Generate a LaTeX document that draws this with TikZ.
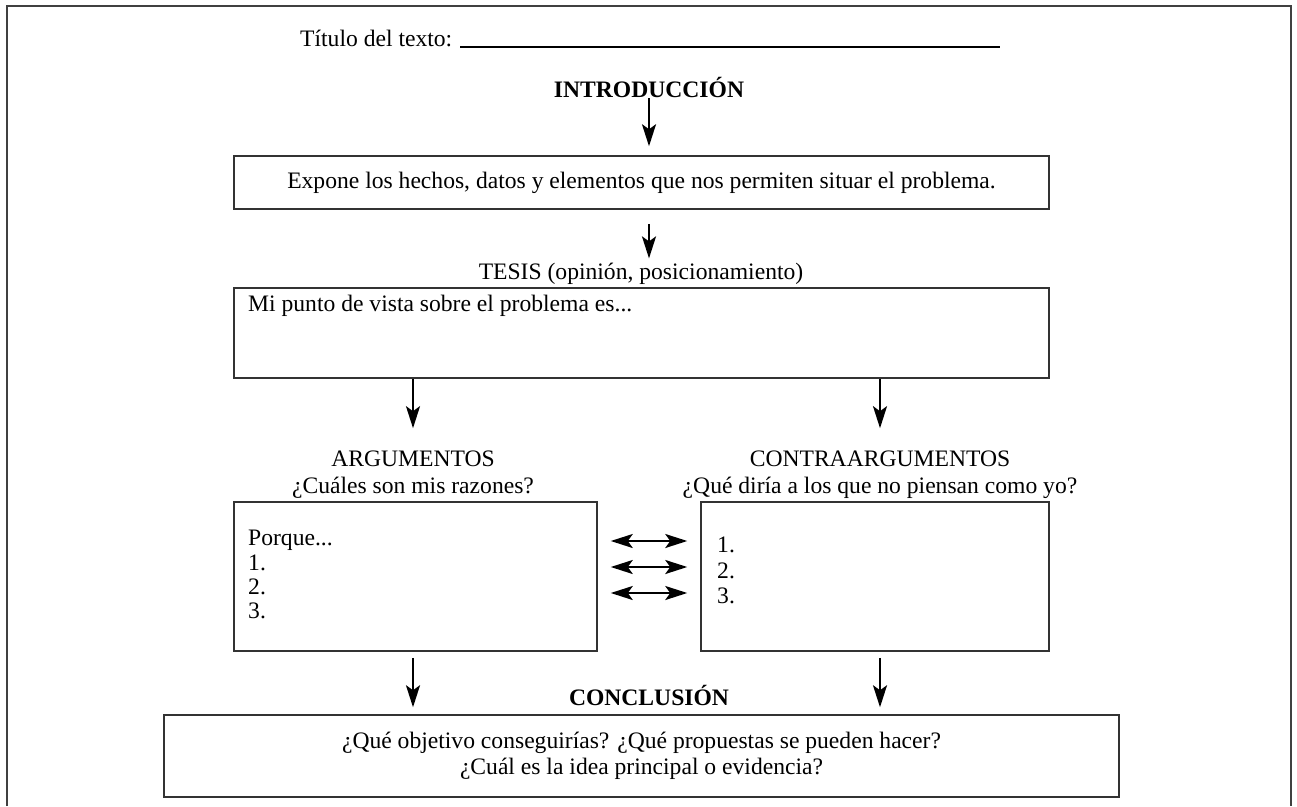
\documentclass[tikz,border=0pt]{standalone}
\usepackage{fontspec}
\setmainfont{Liberation Serif}
\usetikzlibrary{arrows.meta}

\tikzset{
  caja/.style={draw=black!80, line width=1.5pt, inner sep=0pt},
  rotulo/.style={inner sep=0pt, font=\fontsize{23.6}{26}\selectfont},
  negrita/.style={rotulo, font=\fontsize{23.6}{26}\selectfont\bfseries},
  punta/.tip={Stealth[length=22pt,width=14pt,inset=5pt]},
  flecha/.style={line width=2.2pt, -punta},
  doble/.style={line width=2.2pt, punta-punta},
}

\begin{document}
\begin{tikzpicture}[x=1pt,y=-1pt]
				\useasboundingbox (0,0) rectangle (1297,806);
				\draw[line width=1.5pt, black!75] (7,806) -- (7,6) -- (1291,6) -- (1291,806);
				
				\node[rotulo, anchor=base west] (titulo) at (300,46) {Título del texto:};
				\coordinate (raya) at (1000,47);
				\draw[line width=1.4pt, shorten <=8pt] (titulo.base east |- raya) -- (raya);
				
				\node[negrita, anchor=base] (intro) at (649,97) {INTRODUCCIÓN};
				\node[caja, rotulo, draw=black!80, minimum width=815, minimum height=53] (expone) at (641.5,182.5) {Expone los hechos, datos y elementos que nos permiten situar el problema.};
				\draw[flecha, shorten <=1pt, shorten >=9pt] (intro) -- (intro |- expone.north);
				
				\node[rotulo, anchor=base] (tesis) at (641,279) {TESIS (opinión, posicionamiento)};
				\draw[flecha, shorten <=14pt, shorten >=4pt] (intro |- expone.south) -- (intro |- tesis.north);
				\node[caja, minimum width=815, minimum height=90] (cajatesis) at (641.5,333) {};
				\node[rotulo, anchor=base west] (punto) at (248,311) {Mi punto de vista sobre el problema es...};
				
				\node[rotulo, anchor=base] (argtit) at (413,466) {ARGUMENTOS};
				\node[rotulo, anchor=base] (argpreg) at (413,493) {¿Cuáles son mis razones?};
				\node[rotulo, anchor=base] (contratit) at (880,466) {CONTRAARGUMENTOS};
				\node[rotulo, anchor=base] (contrapreg) at (880,493) {¿Qué diría a los que no piensan como yo?};
				\draw[flecha, shorten >=22pt] (argtit |- cajatesis.south) -- (argtit);
				\draw[flecha, shorten >=22pt] (contratit |- cajatesis.south) -- (contratit);
				
				\node[caja, minimum width=363, minimum height=149] (argcaja) at (415.5,576.5) {};
				\node[caja, minimum width=348, minimum height=149] (contracaja) at (875,576.5) {};
				\node[rotulo, anchor=base west] (porque) at (248,545) {Porque...};
				\foreach \n/\y in {1/570,2/594,3/618}
					\node[rotulo, anchor=base west] (arg\n) at (248,\y) {\n.};
				\foreach \n/\y in {1/552,2/578,3/603}
					\node[rotulo, anchor=base west] (contra\n) at (717,\y) {\n.};
				\foreach \y [count=\i] in {541,567,593}{
					\coordinate (izq\i) at (argcaja.east |- 0,\y);
					\coordinate (der\i) at (contracaja.west |- 0,\y);
					\draw[doble, shorten <=13pt, shorten >=13pt] (izq\i) -- (der\i);
				}
				
				\node[negrita, anchor=base] (concl) at (649,705) {CONCLUSIÓN};
				\node[caja, rotulo, align=center, minimum width=955, minimum height=82] (conccaja) at (641.5,756) {¿Qué objetivo conseguirías? ¿Qué propuestas se pueden hacer?\\¿Cuál es la idea principal o evidencia?};
				\draw[flecha, shorten <=6pt, shorten >=7pt] (argtit |- argcaja.south) -- (argtit |- conccaja.north);
				\draw[flecha, shorten <=6pt, shorten >=7pt] (contratit |- contracaja.south) -- (contratit |- conccaja.north);
			\end{tikzpicture}
\end{document}
